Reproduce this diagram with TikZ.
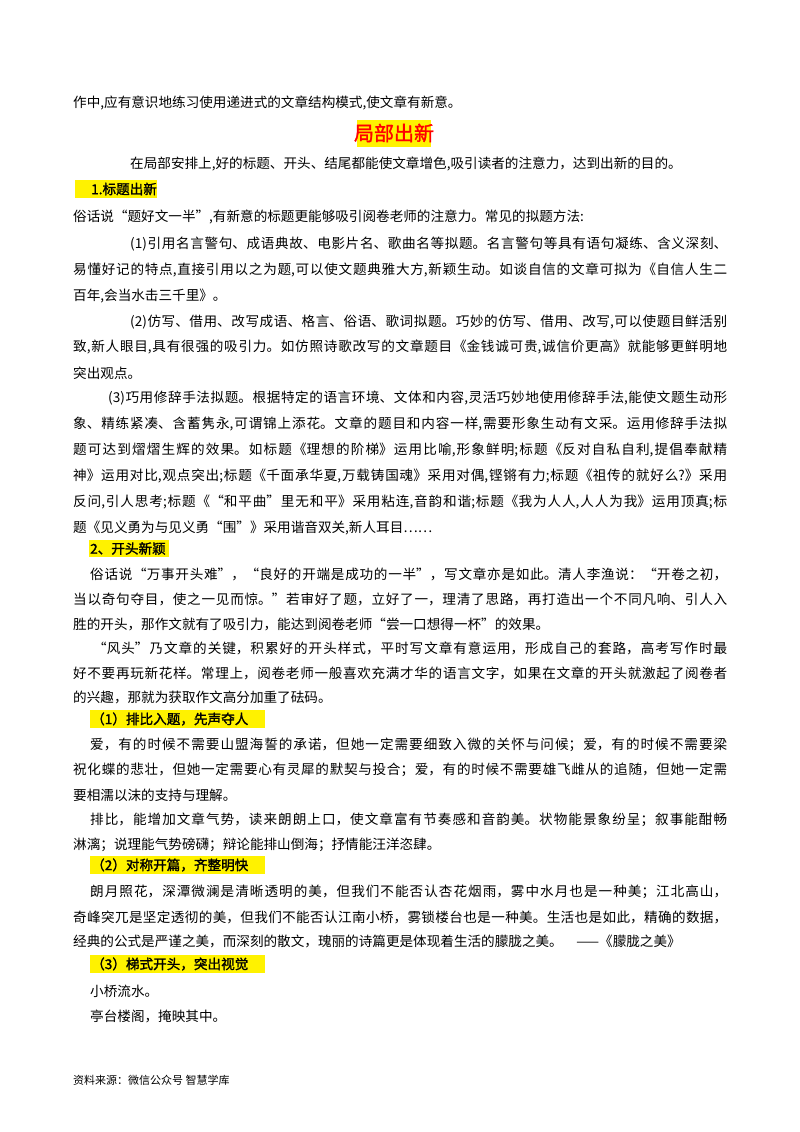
\documentclass[tikz,border=0pt]{standalone}
\usepackage{fontspec}
\setmainfont{Noto Sans CJK SC}[AutoFakeBold=1.5]
\XeTeXlinebreaklocale "zh"
\XeTeXlinebreakskip=0pt plus 4pt minus 0.6pt
\tikzset{ln/.style={anchor=west,inner sep=0pt,font=\fontsize{13.6}{16}\selectfont},
  hd/.style={anchor=west,inner sep=0pt,font=\fontsize{13.6}{16}\selectfont\bfseries}}
% full justified line: name, x, y, text (right edge 727)
\newcommand\fl[4]{\pgfmathsetlengthmacro\ww{727-#2}\node[ln,text width=\ww,align=justify] (#1) at (#2,#3) {\parfillskip=0pt \emergencystretch=20pt #4\par};}
\newcommand\pl[4]{\node[ln] (#1) at (#2,#3) {#4};}
\begin{document}
\begin{tikzpicture}[x=1pt,y=-1pt]
\useasboundingbox[fill=white] (0,0) rectangle (800,1132);
\pl{a1}{73}{103}{作中,应有意识地练习使用递进式的文章结构模式,使文章有新意。}
\fill[yellow] (357,120) rectangle (431,147);
\node[inner sep=0pt,text=red,font=\fontsize{20}{22}\selectfont\bfseries] (title) at (394,133) {局部出新};
\pl{a2}{130}{164}{在局部安排上,好的标题、开头、结尾都能使文章增色,吸引读者的注意力，达到出新的目的。}
\fill[yellow] (75,180) rectangle (157,198);
\node[hd] (h1) at (91,189) {1.标题出新};
\pl{a3}{73}{217}{俗话说“题好文一半”,有新意的标题更能够吸引阅卷老师的注意力。常见的拟题方法:}
\fl{b1}{130}{244}{(1)引用名言警句、成语典故、电影片名、歌曲名等拟题。名言警句等具有语句凝练、含义深刻、}
\fl{b2}{73}{270}{易懂好记的特点,直接引用以之为题,可以使文题典雅大方,新颖生动。如谈自信的文章可拟为《自信人生二}
\pl{b3}{73}{296}{百年,会当水击三千里》。}
\fl{c1}{130}{322}{(2)仿写、借用、改写成语、格言、俗语、歌词拟题。巧妙的仿写、借用、改写,可以使题目鲜活别}
\fl{c2}{73}{347}{致,新人眼目,具有很强的吸引力。如仿照诗歌改写的文章题目《金钱诚可贵,诚信价更高》就能够更鲜明地}
\pl{c3}{73}{373}{突出观点。}
\fl{d1}{108}{398}{(3)巧用修辞手法拟题。根据特定的语言环境、文体和内容,灵活巧妙地使用修辞手法,能使文题生动形}
\fl{d2}{73}{424}{象、精练紧凑、含蓄隽永,可谓锦上添花。文章的题目和内容一样,需要形象生动有文采。运用修辞手法拟}
\fl{d3}{73}{450}{题可达到熠熠生辉的效果。如标题《理想的阶梯》运用比喻,形象鲜明;标题《反对自私自利,提倡奉献精}
\fl{d4}{73}{476}{神》运用对比,观点突出;标题《千面承华夏,万载铸国魂》采用对偶,铿锵有力;标题《祖传的就好么?》采用}
\fl{d5}{73}{502}{反问,引人思考;标题《“和平曲”里无和平》采用粘连,音韵和谐;标题《我为人人,人人为我》运用顶真;标}
\pl{d6}{73}{528}{题《见义勇为与见义勇“围”》采用谐音双关,新人耳目……}
\fill[yellow] (89,540) rectangle (169,557);
\node[hd] (h2) at (90,548.5) {2、开头新颖};
\fl{e1}{90}{574}{俗话说“万事开头难”，“良好的开端是成功的一半”，写文章亦是如此。清人李渔说：“开卷之初，}
\fl{e2}{73}{599}{当以奇句夺目，使之一见而惊。”若审好了题，立好了一，理清了思路，再打造出一个不同凡响、引人入}
\pl{e3}{73}{624}{胜的开头，那作文就有了吸引力，能达到阅卷老师“尝一口想得一杯”的效果。}
\fl{f1}{93}{648}{“风头”乃文章的关键，积累好的开头样式，平时写文章有意运用，形成自己的套路，高考写作时最}
\fl{f2}{73}{673}{好不要再玩新花样。常理上，阅卷老师一般喜欢充满才华的语言文字，如果在文章的开头就激起了阅卷者}
\pl{f3}{73}{697}{的兴趣，那就为获取作文高分加重了砝码。}
\fill[yellow] (90,710) rectangle (265,728);
\node[hd] (h3) at (91,719) {（1）排比入题，先声夺人};
\fl{g1}{90}{745}{爱，有的时候不需要山盟海誓的承诺，但她一定需要细致入微的关怀与问候；爱，有的时候不需要梁}
\fl{g2}{73}{770}{祝化蝶的悲壮，但她一定需要心有灵犀的默契与投合；爱，有的时候不需要雄飞雌从的追随，但她一定需}
\pl{g3}{73}{795}{要相濡以沫的支持与理解。}
\fl{h1b}{90}{820}{排比，能增加文章气势，读来朗朗上口，使文章富有节奏感和音韵美。状物能景象纷呈；叙事能酣畅}
\pl{h2b}{73}{845}{淋漓；说理能气势磅礴；辩论能排山倒海；抒情能汪洋恣肆。}
\fill[yellow] (90,856) rectangle (265,874);
\node[hd] (h4) at (91,865) {（2）对称开篇，齐整明快};
\fl{i1}{90}{892}{朗月照花，深潭微澜是清晰透明的美，但我们不能否认杏花烟雨，雾中水月也是一种美；江北高山，}
\fl{i2}{73}{917}{奇峰突兀是坚定透彻的美，但我们不能否认江南小桥，雾锁楼台也是一种美。生活也是如此，精确的数据，}
\pl{i3}{73}{941}{经典的公式是严谨之美，而深刻的散文，瑰丽的诗篇更是体现着生活的朦胧之美。\quad ——《朦胧之美》}
\fill[yellow] (90,955) rectangle (265,973);
\node[hd] (h5) at (91,964) {（3）梯式开头，突出视觉};
\pl{j1}{90}{991}{小桥流水。}
\pl{j2}{90}{1016}{亭台楼阁，掩映其中。}
\node[anchor=west,inner sep=0pt,font=\fontsize{11}{13}\selectfont] (src) at (73,1080) {资料来源：微信公众号 智慧学库};
\end{tikzpicture}
\end{document}
